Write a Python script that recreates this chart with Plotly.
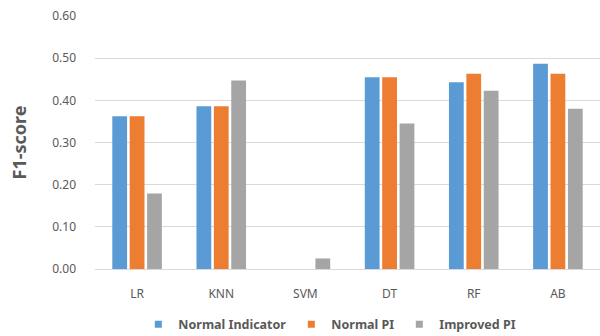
import plotly.graph_objects as go

categories = ["LR", "KNN", "SVM", "DT", "RF", "AB"]
normal_indicator = [0.362, 0.386, 0.0, 0.455, 0.443, 0.487]
normal_pi = [0.362, 0.386, 0.0, 0.455, 0.463, 0.463]
improved_pi = [0.179, 0.447, 0.025, 0.345, 0.423, 0.380]
tick_vals = [0.0, 0.1, 0.2, 0.3, 0.4, 0.5, 0.6]
tick_text = ["0.00", "0.10", "0.20", "0.30", "0.40", "0.50", "0.60"]
series_names = ["Normal Indicator", "Normal PI", "Improved PI"]
colors = ["#5B9BD5", "#ED7D31", "#A5A5A5"]

fig = go.Figure()
for name, vals, col in zip(series_names, [normal_indicator, normal_pi, improved_pi], colors):
    fig.add_trace(go.Bar(name=name, x=categories, y=vals, showlegend=False,
                         marker=dict(color=col, line=dict(width=0))))
for name, col in zip(series_names, colors):
    fig.add_trace(go.Scatter(name=name, x=[None], y=[None], mode="markers",
                             marker=dict(symbol="square", size=7, color=col)))

fig.update_layout(
    width=600, height=336,
    margin=dict(l=95, r=0, t=16, b=67, autoexpand=False),
    paper_bgcolor="white", plot_bgcolor="white",
    barmode="group", bargap=0.38, bargroupgap=0.15,
    font=dict(family="Noto Sans", color="#595959", size=12),
    showlegend=True,
    legend=dict(orientation="h", x=0.465, xanchor="center", y=-0.22, yanchor="middle",
                font=dict(size=12.5, color="#595959", weight="bold"),
                itemwidth=30, traceorder="normal", tracegroupgap=0),
    xaxis=dict(showgrid=False, showline=True, linecolor="#D9D9D9", linewidth=1, automargin=False,
               ticks="", tickfont=dict(size=12, color="#595959"), ticklabelstandoff=14),
    yaxis=dict(range=[0, 0.6], tickvals=tick_vals, ticktext=tick_text, automargin=False,
               showgrid=True, gridcolor="#D9D9D9", gridwidth=1, zeroline=False,
               showline=False, ticks="", ticklabelstandoff=18,
               tickfont=dict(size=12, color="#595959"),
               title=dict(text="<b>F1-score</b>", font=dict(size=18, color="#595959"), standoff=20)),
)

fig.write_html("out.html")
